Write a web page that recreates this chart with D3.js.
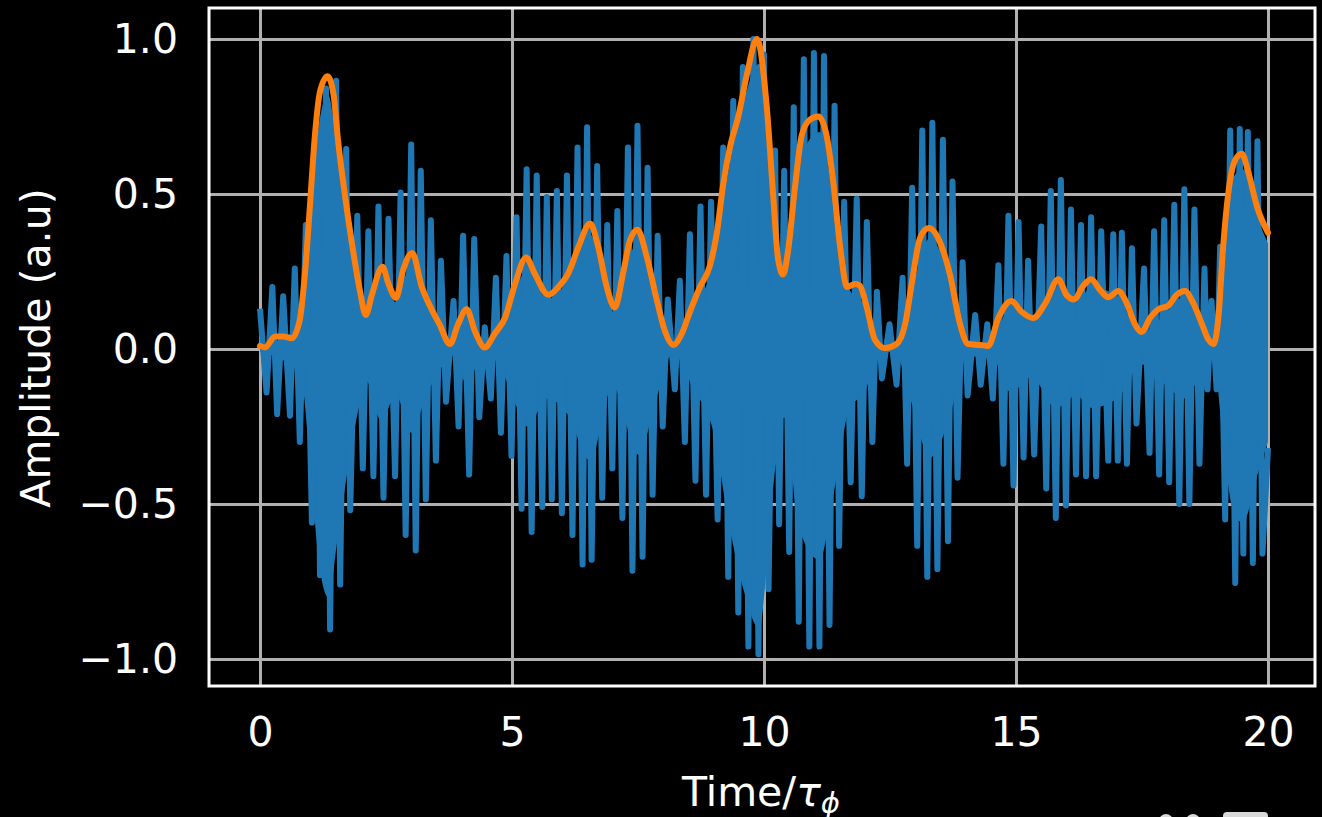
<!DOCTYPE html>
<html>
<head>
<meta charset="utf-8">
<script src="https://cdn.jsdelivr.net/npm/d3@7"></script>
<style>
  html, body { margin: 0; padding: 0; background: #000; }
  svg { display: block; }
</style>
</head>
<body>
<svg id="chart"></svg>
<script>
// signal extrema (time, amplitude)
const blueT = [
  0, 0.13, 0.245, 0.34, 0.46, 0.595, 0.69, 0.79, 0.91, 1.03, 1.12, 1.19, 1.31, 1.39, 1.51, 1.59, 1.71, 1.79, 1.93, 2.04,
  2.15, 2.25, 2.35, 2.45, 2.55, 2.68, 2.79, 2.89, 3.00, 3.09, 3.19,
  3.29, 3.39, 3.49, 3.59, 3.69, 3.84, 3.94, 4.03, 4.15, 4.25, 4.35, 4.46, 4.58, 4.68, 4.78, 4.89, 4.99, 5.09, 5.19, 5.29,
  5.39, 5.49, 5.60, 5.69, 5.79, 5.89, 5.99, 6.09, 6.20, 6.30, 6.40, 6.49, 6.58,
  6.69, 6.79, 6.89, 6.99, 7.09, 7.19, 7.30, 7.39, 7.49, 7.59, 7.69, 7.79, 7.89, 7.99, 8.09, 8.23, 8.33, 8.43, 8.53, 8.64,
  8.74, 8.85, 8.95, 9.08, 9.19, 9.29, 9.39, 9.49, 9.58, 9.69, 9.79, 9.89,
  10.0, 10.09, 10.22, 10.30, 10.40, 10.50, 10.59, 10.69, 10.79, 10.90, 10.99, 11.10, 11.19, 11.30, 11.40, 11.49, 11.59, 11.72, 11.84, 11.94,
  12.04, 12.15, 12.24, 12.34, 12.49, 12.63, 12.75, 12.84, 12.94, 13.04, 13.14, 13.24, 13.34,
  13.44, 13.55, 13.65, 13.74, 13.84, 13.94, 14.04, 14.19, 14.30, 14.43, 14.54, 14.65, 14.75, 14.85, 14.95, 15.05, 15.15, 15.24, 15.36, 15.50,
  15.60, 15.69, 15.79, 15.89, 15.99, 16.09, 16.19, 16.29, 16.39, 16.49, 16.59, 16.69,
  16.83, 16.93, 17.02, 17.10, 17.20, 17.30, 17.39, 17.54, 17.65, 17.74, 17.84, 17.94, 18.04, 18.14, 18.24, 18.34, 18.44, 18.54, 18.64, 18.74,
  18.80, 18.88, 18.98, 19.05, 19.15, 19.25, 19.35, 19.44, 19.51, 19.60, 19.70, 19.79, 19.89, 20.0
]
const blueV = [
  0.13, -0.14, 0.20, -0.21, 0.17, -0.215, 0.26, -0.30, 0.40, -0.56, 0.67, -0.73, 0.84, -0.905, 0.865, -0.76, 0.645, -0.52, 0.43, -0.385,
  0.38, -0.41, 0.46, -0.48, 0.42, -0.41, 0.505, -0.60, 0.66, -0.65, 0.575,
  -0.485, 0.415, -0.36, 0.285, -0.17, 0.155, -0.25, 0.365, -0.405, 0.355, -0.22, 0.07, -0.16, 0.23, -0.27, 0.30, -0.345, 0.425, -0.515, 0.58,
  -0.59, 0.56, -0.51, 0.49, -0.485, 0.51, -0.53, 0.56, -0.60, 0.65, -0.695, 0.715, -0.68,
  0.59, -0.48, 0.40, -0.385, 0.445, -0.545, 0.65, -0.715, 0.72, -0.67, 0.585, -0.47, 0.365, -0.25, 0.16, -0.13, 0.22, -0.30, 0.37, -0.425,
  0.46, -0.47, 0.475, -0.55, 0.65, -0.735, 0.80, -0.85, 0.91, -0.96, 1.0, -0.985,
  0.95, -0.775, 0.64, -0.565, 0.575, -0.655, 0.78, -0.88, 0.935, -0.96, 0.955, -0.96, 0.945, -0.89, 0.785, -0.635, 0.475, -0.43, 0.485, -0.475,
  0.41, -0.30, 0.185, -0.095, 0.08, -0.115, 0.23, -0.37, 0.52, -0.635, 0.705, -0.735, 0.73,
  -0.71, 0.675, -0.62, 0.54, -0.415, 0.28, -0.15, 0.11, -0.115, 0.08, -0.16, 0.27, -0.37, 0.43, -0.44, 0.41, -0.35, 0.285, -0.34, 0.395,
  -0.45, 0.51, -0.545, 0.545, -0.505, 0.45, -0.405, 0.40, -0.41, 0.425, -0.41, 0.38,
  -0.36, 0.37, -0.36, 0.375, -0.37, 0.325, -0.24, 0.26, -0.335, 0.38, -0.405, 0.415, -0.43, 0.465, -0.50, 0.515, -0.50, 0.45, -0.37, 0.26,
  -0.13, 0.155, -0.13, 0.33, -0.55, 0.705, -0.755, 0.71, -0.66, 0.70, -0.69, 0.67, -0.66, -0.32
]

// solid part of the signal between the spikes (top and bottom edge)
const coreT = [
  0, 0.5, 0.8, 1.0, 1.15, 1.35, 1.55, 1.75, 2.0, 2.1, 2.4, 2.7, 3.0, 3.3, 3.6, 3.8, 4.1, 4.45, 4.8, 5.1,
  5.3, 5.7, 6.1, 6.55, 7.0, 7.5, 7.9, 8.2, 8.6, 9.0, 9.3, 9.6, 9.9, 10.2, 10.4, 10.7, 11.1, 11.4, 11.7, 12.0,
  12.3, 12.6, 12.9, 13.3, 13.7, 14.0, 14.5, 14.9, 15.3, 15.8, 16.2, 16.5, 17.0, 17.5, 18.0, 18.35, 18.9, 19.1, 19.3, 19.5,
  19.8, 20.0
]
const coreHi = [
  0.01, 0.04, 0.08, 0.40, 0.70, 0.82, 0.62, 0.40, 0.17, 0.10, 0.24, 0.15, 0.28, 0.15, 0.06, 0.02, 0.11, 0.01, 0.07, 0.20,
  0.26, 0.16, 0.22, 0.37, 0.12, 0.35, 0.14, 0.01, 0.13, 0.28, 0.58, 0.80, 0.92, 0.42, 0.22, 0.60, 0.70, 0.47, 0.19, 0.14,
  0.01, 0.01, 0.17, 0.36, 0.21, 0.03, 0.02, 0.14, 0.09, 0.20, 0.15, 0.20, 0.17, 0.05, 0.12, 0.17, 0.01, 0.30, 0.55, 0.58,
  0.42, 0.34
]
const coreLo = [
  -0.01, -0.04, -0.08, -0.38, -0.66, -0.80, -0.60, -0.38, -0.16, -0.10, -0.23, -0.15, -0.27, -0.15, -0.06, -0.02, -0.11, -0.01, -0.07, -0.19,
  -0.25, -0.16, -0.21, -0.36, -0.12, -0.34, -0.14, -0.01, -0.13, -0.27, -0.56, -0.78, -0.90, -0.42, -0.22, -0.58, -0.68, -0.45, -0.19, -0.14,
  -0.01, -0.01, -0.16, -0.35, -0.21, -0.03, -0.02, -0.14, -0.09, -0.19, -0.15, -0.19, -0.16, -0.05, -0.12, -0.16, -0.01, -0.28, -0.52, -0.56,
  -0.40, -0.30
]

// envelope
const orangeT = [
  0, 0.10, 0.30, 0.46, 0.63, 0.79, 0.89, 0.99, 1.09, 1.19, 1.34, 1.46, 1.55, 1.69, 1.82, 1.98, 2.10, 2.22, 2.43, 2.55,
  2.70, 2.84, 3.02, 3.21, 3.40, 3.56, 3.77, 3.93, 4.10, 4.27, 4.46, 4.66, 4.86, 5.06, 5.28, 5.46, 5.72, 5.92, 6.12, 6.32,
  6.55, 6.71, 6.88, 7.04, 7.21, 7.34, 7.49, 7.67, 7.87, 8.04, 8.20, 8.37, 8.53, 8.73, 8.93, 9.06, 9.19, 9.33, 9.49, 9.66,
  9.86, 10.05, 10.18, 10.28, 10.38, 10.48, 10.62, 10.75, 10.91, 11.08, 11.24, 11.38, 11.51, 11.65, 11.81, 11.90, 12.04, 12.20, 12.40, 12.63,
  12.80, 12.93, 13.10, 13.27, 13.49, 13.69, 13.89, 14.05, 14.29, 14.45, 14.65, 14.91, 15.11, 15.34, 15.58, 15.84, 16.00, 16.15, 16.34, 16.49,
  16.67, 16.83, 17.03, 17.20, 17.36, 17.49, 17.66, 17.82, 18.02, 18.19, 18.35, 18.52, 18.69, 18.82, 18.92, 19.02, 19.11, 19.21, 19.35, 19.48,
  19.61, 19.78, 20.0
]
const orangeV = [
  0.01, 0.005, 0.04, 0.04, 0.035, 0.095, 0.24, 0.46, 0.69, 0.83, 0.88, 0.82, 0.67, 0.49, 0.345, 0.19, 0.11, 0.175, 0.265, 0.21,
  0.165, 0.255, 0.31, 0.20, 0.13, 0.08, 0.016, 0.08, 0.128, 0.055, 0.005, 0.05, 0.10, 0.21, 0.295, 0.24, 0.175, 0.20, 0.245, 0.33,
  0.405, 0.33, 0.20, 0.134, 0.25, 0.35, 0.385, 0.30, 0.16, 0.055, 0.013, 0.05, 0.12, 0.20, 0.27, 0.37, 0.53, 0.655, 0.75, 0.885,
  1.0, 0.79, 0.50, 0.29, 0.24, 0.32, 0.53, 0.69, 0.74, 0.75, 0.69, 0.53, 0.33, 0.20, 0.21, 0.205, 0.134, 0.03, 0.003, 0.016,
  0.08, 0.21, 0.36, 0.39, 0.345, 0.24, 0.08, 0.016, 0.013, 0.01, 0.10, 0.155, 0.12, 0.10, 0.147, 0.225, 0.175, 0.16, 0.205, 0.225,
  0.19, 0.167, 0.187, 0.147, 0.08, 0.055, 0.10, 0.128, 0.14, 0.175, 0.187, 0.147, 0.08, 0.03, 0.016, 0.11, 0.33, 0.50, 0.61, 0.63,
  0.57, 0.46, 0.375
]

const xTicks = [0, 5, 10, 15, 20]
const yTicks = [-1, -0.5, 0, 0.5, 1]
const yTickLabels = ['\u22121.0', '\u22120.5', '0.0', '0.5', '1.0']

const width = 1322
const height = 817
const frame = { left: 209, right: 1315, top: 8, bottom: 686 }
const font = 'DejaVu Sans, sans-serif'

const x = d3.scaleLinear().domain([0, 20]).range([260, 1268])
const y = d3.scaleLinear().domain([-1, 1]).range([659, 39])

const svg = d3.select('#chart')
  .attr('width', width)
  .attr('height', height)

svg.append('rect')
  .attr('width', width)
  .attr('height', height)
  .attr('fill', '#000')

// grid lines + tick labels from the axes
const gx = svg.append('g')
  .attr('transform', `translate(0,${frame.bottom})`)
  .call(d3.axisBottom(x)
    .tickValues(xTicks)
    .tickFormat(d3.format('d'))
    .tickSize(-(frame.bottom - frame.top))
    .tickPadding(31))
  .attr('font-size', 41)
  .attr('font-family', font)
gx.select('.domain').remove()

const gy = svg.append('g')
  .attr('transform', `translate(${frame.left},0)`)
  .call(d3.axisLeft(y)
    .tickValues(yTicks)
    .tickFormat((d, i) => yTickLabels[i])
    .tickSize(-(frame.right - frame.left))
    .tickPadding(31))
  .attr('font-size', 41)
  .attr('font-family', font)
gy.select('.domain').remove()

svg.selectAll('.tick line')
  .attr('stroke', '#b0b0b0')
  .attr('stroke-width', 3)
svg.selectAll('.tick text')
  .attr('fill', '#fff')

// signal: solid body, then the spikes
const coreArea = d3.area()
  .x((d) => x(coreT[d]))
  .y0((d) => y(coreLo[d]))
  .y1((d) => y(coreHi[d]))
  .curve(d3.curveMonotoneX)

svg.append('path')
  .datum(d3.range(coreT.length))
  .attr('d', coreArea)
  .attr('fill', '#1f77b4')

const blueLine = d3.line()
  .x((d) => x(blueT[d]))
  .y((d) => y(blueV[d]))

svg.append('path')
  .datum(d3.range(blueT.length))
  .attr('d', blueLine)
  .attr('fill', 'none')
  .attr('stroke', '#1f77b4')
  .attr('stroke-width', 6)
  .attr('stroke-linejoin', 'round')

const orangeLine = d3.line()
  .x((d) => x(orangeT[d]))
  .y((d) => y(orangeV[d]))
  .curve(d3.curveMonotoneX)

svg.append('path')
  .datum(d3.range(orangeT.length))
  .attr('d', orangeLine)
  .attr('fill', 'none')
  .attr('stroke', '#ff7f0e')
  .attr('stroke-width', 6)
  .attr('stroke-linejoin', 'round')
  .attr('stroke-linecap', 'round')

// frame
svg.append('rect')
  .attr('x', frame.left)
  .attr('y', frame.top)
  .attr('width', frame.right - frame.left)
  .attr('height', frame.bottom - frame.top)
  .attr('fill', 'none')
  .attr('stroke', '#fff')
  .attr('stroke-width', 3)

// axis titles
const xLabel = svg.append('text')
  .attr('x', 761)
  .attr('y', 806)
  .attr('text-anchor', 'middle')
  .attr('font-family', font)
  .attr('font-size', 41)
  .attr('fill', '#fff')
xLabel.append('tspan').text('Time/')
xLabel.append('tspan').attr('font-style', 'italic').text('\u03c4')
xLabel.append('tspan')
  .attr('font-style', 'italic')
  .attr('font-size', 29)
  .attr('dy', 7)
  .text('\u03d5')

svg.append('text')
  .attr('transform', 'translate(50,348) rotate(-90)')
  .attr('text-anchor', 'middle')
  .attr('font-family', font)
  .attr('font-size', 41)
  .attr('fill', '#fff')
  .text('Amplitude (a.u)')

// cut-off marks at the lower right edge
const mark = svg.append('g').attr('fill', '#d9d9d9')
mark.append('circle').attr('cx', 1166).attr('cy', 821).attr('r', 7)
mark.append('circle').attr('cx', 1193).attr('cy', 821).attr('r', 7)
mark.append('rect')
  .attr('x', 1223).attr('y', 812)
  .attr('width', 45).attr('height', 20)
  .attr('rx', 4)
</script>
</body>
</html>
